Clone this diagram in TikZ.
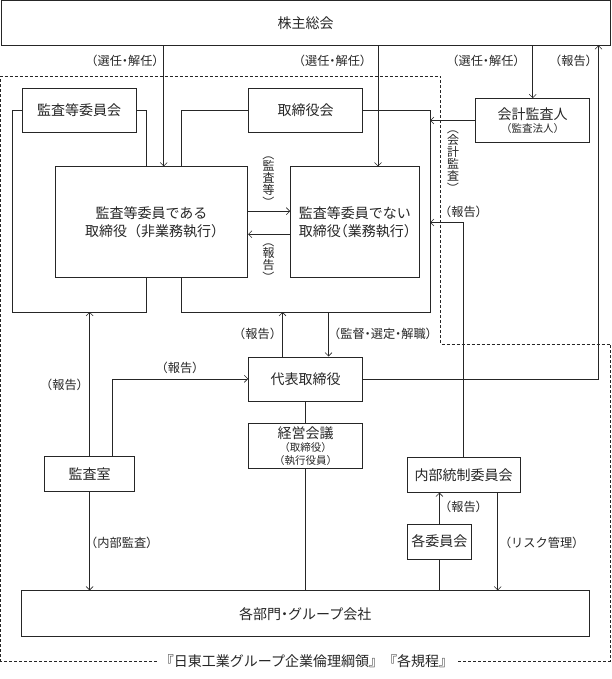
\documentclass[tikz,border=0pt]{standalone}
\usepackage{fontspec}
\usepackage{graphicx}
\setmainfont{Noto Sans CJK JP}
\newfontfamily\halffont{Noto Sans CJK JP}[RawFeature={+halt}]
\usetikzlibrary{arrows.meta}
\newcommand\vopen{\rotatebox[origin=c]{-90}{（}\\[-3pt]}
\newcommand\vclose{\\[-3pt]\rotatebox[origin=c]{-90}{）}}

\begin{document}
\begin{tikzpicture}[x=1pt, y=-1pt, line width=0.6pt, black!85,
    box/.style={draw, fill=white, minimum width=114pt, minimum height=44pt,
      inner sep=1pt, align=center, font=\halffont\fontsize{14}{18}\selectfont},
    lbl/.style={inner sep=1pt, font=\halffont\fontsize{12.2}{13}\selectfont},
    vlbl/.style={inner sep=0pt, align=center, font=\halffont\fontsize{12}{12}\selectfont},
    arr/.style={-{Straight Barb[length=3.5pt, width=7pt]}},
    region/.style={dash pattern=on 3pt off 2pt}]
    \useasboundingbox (0,0) rectangle (611,679);

    \coordinate (x1) at (163.7, 0);
    \coordinate (x2) at (378, 0);
    \coordinate (x4) at (598.5, 0);
    \coordinate (sx) at (111.8, 0);
    \coordinate (rx) at (497.7, 0);

    \coordinate (kL) at (12, 312);
    \coordinate (kR) at (146, 312);
    \coordinate (tL) at (181.5, 312);
    \coordinate (tR) at (430, 312);
    \coordinate (rep) at (282.5, 312);
    \coordinate (sup) at (328.5, 312);
    \coordinate (nr) at (430, 222.5);

    % boxes
    \node[box, minimum width=609pt, minimum height=44.5pt] (soukai) at (305.5, 22.8) {株主総会};
    \node[box] (kiin) at (79, 110) {監査等委員会};
    \node[box] (tori) at (305.5, 110) {取締役会};
    \node[box] (kaikei) at (532.7, 120.5)
      {会計監査人\\[-5pt]{\fontsize{10.5}{12}\selectfont （監査法人）}};
    \node[box, minimum width=192.5pt, minimum height=111pt] (dearu) at (151.5, 222.2)
      {監査等委員である\\取締役\hspace{0.5em}（非業務執行）};
    \node[box, minimum width=128.8pt, minimum height=111pt] (denai) at (354.9, 222.2)
      {監査等委員でない\\取締役（業務執行）};
    \node[box] (daihyo) at (305.5, 378.8) {代表取締役};
    \node[box, minimum height=45pt] (keiei) at (305.5, 445.9)
      {経営会議\\[-5pt]{\fontsize{10.5}{12}\selectfont （取締役）}\\[-5pt]{\fontsize{10.5}{12}\selectfont （執行役員）}};
    \node[box, minimum width=89.7pt, minimum height=35pt] (shitsu) at (89.6, 474.2) {監査室};
    \node[box, minimum width=113pt, minimum height=34.6pt] (naibu) at (463.7, 475) {内部統制委員会};
    \node[box, minimum width=64.4pt, minimum height=35.3pt] (kakuiin) at (439.4, 541.6) {各委員会};
    \node[box, minimum width=567.8pt, minimum height=46pt] (bumon) at (305.3, 613.7) {各部門・グループ会社};

    % dashed frame
    \node[fill=white, inner xsep=3pt, font=\fontsize{14}{16}\selectfont] (kitei) at (306.5, 661)
      {『日東工業グループ企業倫理綱領』『各規程』};
    \draw[region] (kitei.west) -| (0.6, 76) -| (440.7, 344) -| (610.4, 661) -- (kitei.east);

    % labels
    \node[lbl] (l1) at (125, 61) {（選任・解任）};
    \node[lbl] (l2) at (332.5, 61) {（選任・解任）};
    \node[lbl] (l3) at (486, 61) {（選任・解任）};
    \node[lbl] (l4) at (573.5, 61) {（報告）};
    \node[vlbl] (v1) at (453, 159) {\vopen 会\\計\\監\\査\vclose};
    \node[lbl] (l5) at (463.5, 211.5) {（報告）};
    \node[vlbl] (v2) at (268.5, 179) {\vopen 監\\査\\等\vclose};
    \node[vlbl] (v3) at (268.5, 260) {\vopen 報\\告\vclose};
    \node[lbl] (l6) at (257.6, 334) {（報告）};
    \node[lbl] (l7) at (383, 334) {（監督・選定・解職）};
    \node[lbl] (l8) at (180, 368.3) {（報告）};
    \node[lbl] (l9) at (64.5, 385) {（報告）};
    \node[lbl] (l10) at (463.5, 506.7) {（報告）};
    \node[lbl] (l11) at (121.8, 543.3) {（内部監査）};
    \node[lbl] (l12) at (541.7, 543.3) {（リスク管理）};

    % from the general meeting
    \draw[arr] (soukai.south -| x1) -- (dearu.north -| x1);
    \draw[arr] (soukai.south -| x2) -- (denai.north -| x2);
    \draw[arr] (soukai.south -| kaikei) -- (kaikei.north);
    \draw[arr] (daihyo.east) -| (soukai.south -| x4);
    \draw[arr] (kaikei.west) -- (kaikei.west -| tR);

    % board brackets
    \draw (kiin.west) -| (kL) -- (kR) -- (dearu.south -| kR);
    \draw (kiin.east) -| (dearu.north -| kR);
    \draw (tori.west) -| (dearu.north -| tL);
    \draw (dearu.south -| tL) -- (tL) -- (tR) |- (tori.east);
    \draw[arr] ([yshift=11pt]dearu.east) -- ([yshift=11pt]denai.west);
    \draw[arr] ([yshift=-12pt]denai.west) -- ([yshift=-12pt]dearu.east);

    % executive side
    \draw[arr] (daihyo.north -| rep) -- (rep);
    \draw[arr] (sup) -- (daihyo.north -| sup);
    \draw (daihyo.south) -- (keiei.north);
    \draw (keiei.south) -- (bumon.north -| keiei.south);

    % audit office
    \draw[arr] (shitsu.north) -- (shitsu.north |- kL);
    \draw[arr] (shitsu.north -| sx) |- (daihyo.west);
    \draw[arr] (shitsu.south) -- (bumon.north -| shitsu.south);

    % internal control
    \draw[arr] (naibu.north) |- (nr);
    \draw[arr] (kakuiin.north) -- (naibu.south -| kakuiin.north);
    \draw (kakuiin.south) -- (bumon.north -| kakuiin.south);
    \draw[arr] (naibu.south -| rx) -- (bumon.north -| rx);
  \end{tikzpicture}
\end{document}
